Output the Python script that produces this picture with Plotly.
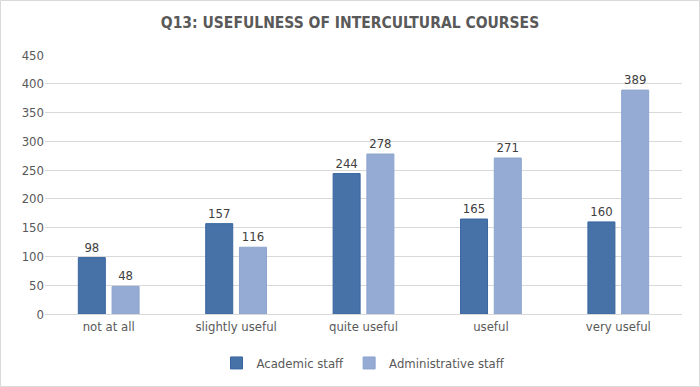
import plotly.graph_objects as go

categories = ["not at all", "slightly useful", "quite useful", "useful", "very useful"]
academic = [98, 157, 244, 165, 160]
administrative = [48, 116, 278, 271, 389]
y_ticks = [0, 50, 100, 150, 200, 250, 300, 350, 400, 450]

W, H = 700, 387
L, R, T, B = 45, 18, 55, 73
pw, ph = W - L - R, H - T - B

font_fam = "DejaVu Sans Condensed, Liberation Sans, sans-serif"

fig = go.Figure()
fig.add_trace(go.Bar(
    name="Academic staff", x=categories, y=academic,
    marker=dict(color="#4672A8", line=dict(color="#3A66A0", width=1)),
    text=academic, textposition="outside",
    textfont=dict(size=13, color="#404040"), cliponaxis=False,
))
fig.add_trace(go.Bar(
    name="Administrative staff", x=categories, y=administrative,
    marker=dict(color="#95ABD4", line=dict(color="#8CA4CF", width=1)),
    text=administrative, textposition="outside",
    textfont=dict(size=13, color="#404040"), cliponaxis=False,
))

fig.update_layout(
    width=W, height=H,
    margin=dict(l=L, r=R, t=T, b=B, autoexpand=False),
    paper_bgcolor="white", plot_bgcolor="white",
    font=dict(family=font_fam, size=13, color="#595959"),
    title=dict(text="<b>Q13: USEFULNESS OF INTERCULTURAL COURSES</b>",
               x=0.5, xanchor="center", y=1 - 23 / H, yanchor="middle",
               font=dict(size=15.5, color="#595959", family=font_fam)),
    barmode="group", bargap=0.47, bargroupgap=0.2,
    showlegend=True,
    legend=dict(orientation="h", x=0.5, xanchor="center",
                y=-(363 - (T + ph)) / ph, yanchor="middle",
                font=dict(size=13, color="#595959"),
                itemwidth=30, traceorder="normal"),
    xaxis=dict(showline=True, linecolor="#d9d9d9", linewidth=1,
               ticks="", tickfont=dict(size=13, color="#595959")),
    yaxis=dict(range=[0, 450], tickvals=y_ticks, showgrid=True,
               gridcolor="#d9d9d9", gridwidth=1, zeroline=False,
               ticks="", tickfont=dict(size=13, color="#595959")),
)

fig.add_shape(type="rect", xref="paper", yref="paper",
              x0=-(L - 0.5) / pw, x1=1 + (R - 0.5) / pw,
              y0=-(B - 0.5) / ph, y1=1 + (T - 0.5) / ph,
              line=dict(color="#d9d9d9", width=1), fillcolor="rgba(0,0,0,0)",
              layer="below")

fig.write_html("out.html")
